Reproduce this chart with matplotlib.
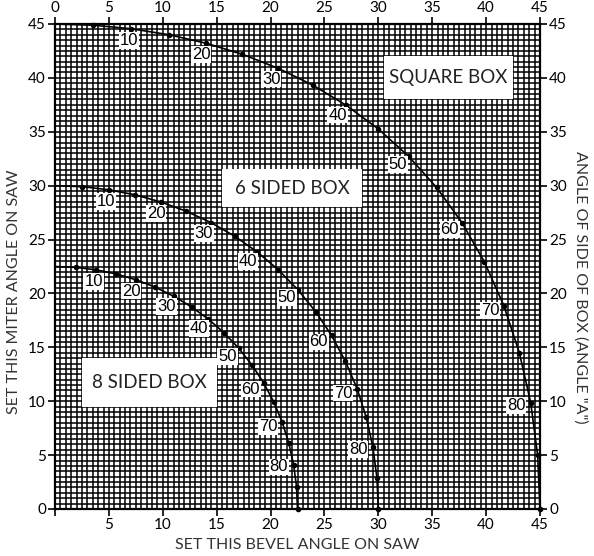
import matplotlib
matplotlib.use('Agg')
import matplotlib.pyplot as plt
from matplotlib.ticker import MultipleLocator
from matplotlib.patches import Rectangle
import numpy as np

plt.rcParams['font.family'] = ['Lato', 'DejaVu Sans']

# side angle of box ("A"), one point every 5 degrees
side_angle = [0, 5, 10, 15, 20, 25, 30, 35, 40, 45, 50, 55, 60, 65, 70, 75, 80, 85, 90]

# square box (4 sides)
sq_bevel = [0.0, 3.53, 7.05, 10.55, 14.00, 17.39, 20.70, 23.93, 27.03, 30.00,
            32.80, 35.40, 37.76, 39.85, 41.64, 43.08, 44.14, 44.78, 45.0]
sq_miter = [45.0, 44.89, 44.56, 44.01, 43.22, 42.19, 40.89, 39.32, 37.45, 35.26,
            32.73, 29.84, 26.57, 22.91, 18.88, 14.51, 9.85, 4.98, 0.0]

# 6 sided box
hex_bevel = [0.0, 2.50, 4.98, 7.44, 9.85, 12.20, 14.48, 16.67, 18.75, 20.70,
             22.52, 24.18, 25.66, 26.94, 28.03, 28.88, 29.50, 29.87, 30.0]
hex_miter = [30.0, 29.91, 29.62, 29.15, 28.48, 27.62, 26.57, 25.31, 23.86, 22.21,
             20.36, 18.32, 16.10, 13.71, 11.17, 8.50, 5.72, 2.88, 0.0]

# 8 sided box
oct_bevel = [0.0, 1.91, 3.81, 5.68, 7.52, 9.31, 11.03, 12.68, 14.24, 15.70,
             17.05, 18.27, 19.36, 20.30, 21.08, 21.69, 22.14, 22.41, 22.5]
oct_miter = [22.5, 22.42, 22.19, 21.81, 21.27, 20.58, 19.73, 18.74, 17.61, 16.33,
             14.91, 13.37, 11.70, 9.93, 8.06, 6.12, 4.11, 2.07, 0.0]

labeled = [10, 20, 30, 40, 50, 60, 70, 80]
ticks = [0, 5, 10, 15, 20, 25, 30, 35, 40, 45]

fig = plt.figure(figsize=(5.94, 5.56), dpi=100)
ax = fig.add_axes([55/594, 1 - 509/556, 485/594, 485/556])
ax.set_xlim(0, 45)
ax.set_ylim(0, 45)

ax.set_xticks(ticks)
ax.set_yticks(ticks)
ax.xaxis.set_minor_locator(MultipleLocator(0.5))
ax.yaxis.set_minor_locator(MultipleLocator(0.5))
ax.grid(which='both', color='black', lw=1.1, zorder=0)
ax.set_axisbelow(True)

ax.tick_params(which='major', direction='out', length=5, width=1.2, pad=1.5,
               top=True, right=True, labeltop=True, labelright=True,
               labelsize=11, colors='black')
ax.tick_params(which='minor', length=0)
ax.xaxis.get_major_ticks()[0].label1.set_visible(False)
for s in ax.spines.values():
    s.set_linewidth(1.6)

# white boxes with names
boxes = [(30.5, 38, 12, 4, 'SQUARE BOX'),
         (15.5, 28, 13, 3.5, '6 SIDED BOX'),
         (2.5, 9.5, 12.5, 4.5, '8 SIDED BOX')]
for x0, y0, w, h, txt in boxes:
    ax.add_patch(Rectangle((x0, y0), w, h, facecolor='white', edgecolor='none', zorder=1))
    ax.text(x0 + w/2, y0 + h/2, txt, ha='center', va='center', fontsize=13.5,
            color='#222222', zorder=2)

for bev, mit in [(sq_bevel, sq_miter), (hex_bevel, hex_miter), (oct_bevel, oct_miter)]:
    ax.plot(bev, mit, color='black', lw=1.2, marker='o', ms=3,
            markevery=slice(1, None), zorder=3, clip_on=False)
    for a in labeled:
        i = side_angle.index(a)
        b, m = bev[i], mit[i]
        r = np.hypot(b, m)
        dx = -15 * b / r
        dy = -12 * m / r
        ax.annotate(str(a), (b, m), xytext=(dx, dy), textcoords='offset pixels',
                    ha='center', va='center', fontsize=12, family='Liberation Sans',
                    bbox=dict(boxstyle='square,pad=0.05', fc='white', ec='none'),
                    zorder=4)

fig.text(297, 556 - 545, 'SET THIS BEVEL ANGLE ON SAW', transform=None,
         ha='center', va='center', fontsize=11.5, color='#333333')
fig.text(14, 556 - 292, 'SET THIS MITER ANGLE ON SAW', transform=None,
         ha='center', va='center', rotation=90, fontsize=11.5, color='#333333')
fig.text(580, 556 - 287, 'ANGLE OF SIDE OF BOX (ANGLE "A")', transform=None,
         ha='center', va='center', rotation=270, fontsize=11.5, color='#333333')

fig.savefig('out.png', dpi=100)
